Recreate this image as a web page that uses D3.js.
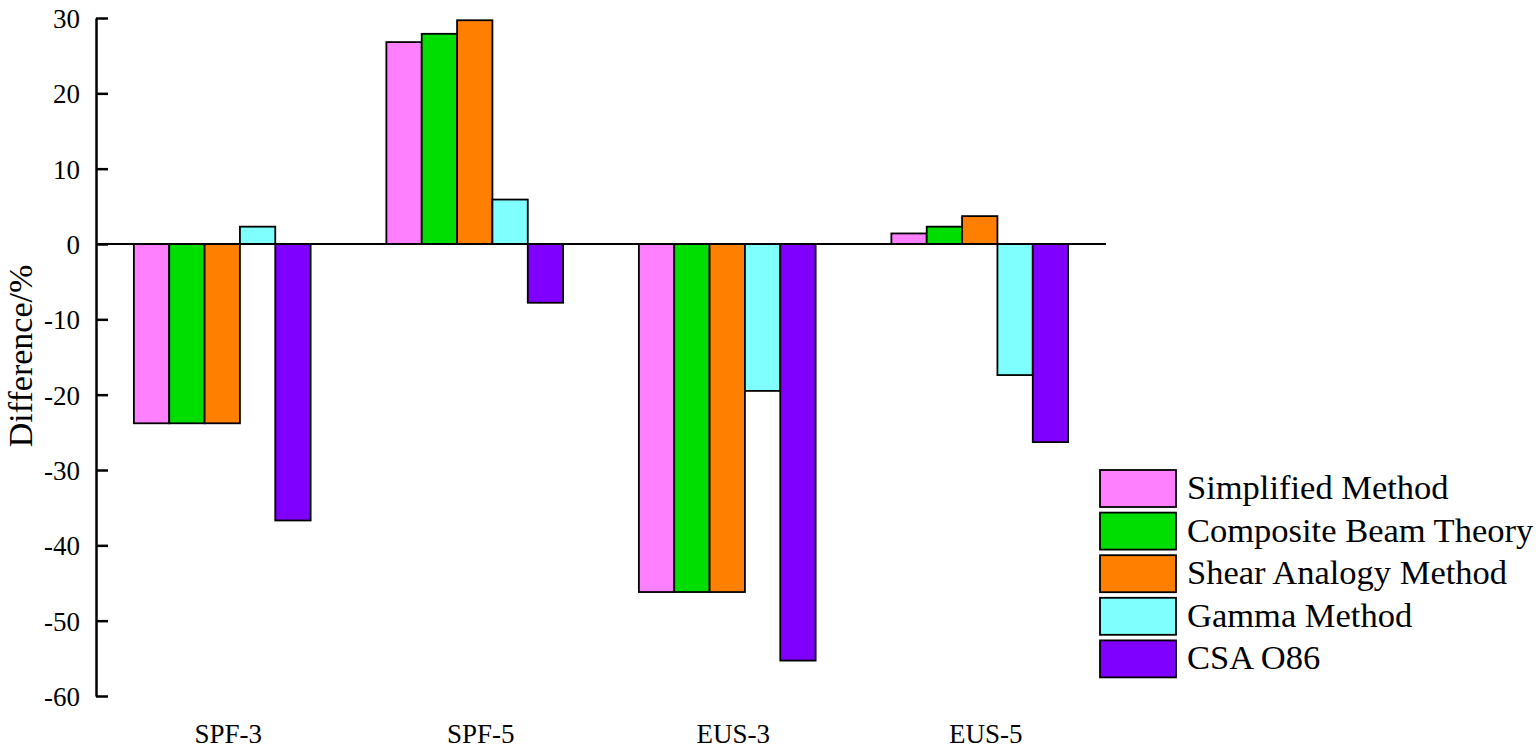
<!DOCTYPE html>
<html>
<head>
<meta charset="utf-8">
<script src="https://cdn.jsdelivr.net/npm/d3@7"></script>
<style>
  body { margin: 0; background: #fff; }
  svg { display: block; }
  text { font-family: "Liberation Serif", "Times New Roman", serif; fill: #000; }
</style>
</head>
<body>
<svg id="chart" width="1536" height="753"></svg>
<script>
// chart data
const categories = ['SPF-3', 'SPF-5', 'EUS-3', 'EUS-5'];
const seriesNames = ['Simplified Method', 'Composite Beam Theory', 'Shear Analogy Method', 'Gamma Method', 'CSA O86'];
const seriesColors = ['#ff80ff', '#00dd00', '#ff8000', '#80ffff', '#8000ff'];
const simplified = [-23.8, 26.8, -46.2, 1.4];
const composite = [-23.8, 27.9, -46.2, 2.3];
const shear = [-23.8, 29.7, -46.2, 3.7];
const gamma = [2.3, 5.9, -19.5, -17.4];
const csa = [-36.7, -7.8, -55.3, -26.3];
const yTicks = [30, 20, 10, 0, -10, -20, -30, -40, -50, -60];

const allSeries = [simplified, composite, shear, gamma, csa];

let svg = d3.select('#chart');
let margins = {left: 96, right: 1106, top: 18, bottom: 696};

// scales
let xScale = d3.scaleBand()
    .domain(categories)
    .range([margins.left, margins.right])
    .padding(0);
let yScale = d3.scaleLinear()
    .domain([-60, 30])
    .range([margins.bottom, margins.top]);
let barWidth = xScale.bandwidth() * 0.14;
let groupOffset = (xScale.bandwidth() - barWidth * seriesNames.length) / 2;

// bars
let barCanvas = svg.append('g').attr('id', 'bars');
allSeries.forEach(function(vals, s){
    barCanvas.selectAll('.bar' + s)
        .data(vals)
        .enter()
        .append('rect')
        .attr('x', function(d, i){ return xScale(categories[i]) + groupOffset + s * barWidth; })
        .attr('y', function(d){ return yScale(Math.max(0, d)); })
        .attr('width', barWidth)
        .attr('height', function(d){ return Math.abs(yScale(d) - yScale(0)); })
        .attr('fill', seriesColors[s])
        .attr('stroke', '#000')
        .attr('stroke-width', 1.8);
});

// zero line
svg.append('line')
    .attr('x1', margins.left)
    .attr('x2', margins.right)
    .attr('y1', yScale(0))
    .attr('y2', yScale(0))
    .attr('stroke', '#000')
    .attr('stroke-width', 2);

// y axis, ticks pointing inward
let yAxis = svg.append('g')
    .attr('transform', 'translate(' + margins.left + ',0)')
    .call(d3.axisRight(yScale).tickValues(yTicks).tickSize(12).tickSizeOuter(0)
        .tickFormat(function(d){ return String(d); }));
yAxis.attr('font-family', null);
yAxis.select('.domain').attr('stroke-width', 2.5);
yAxis.selectAll('.tick line').attr('stroke-width', 2.5);
yAxis.selectAll('.tick text')
    .attr('x', -16)
    .attr('dy', '0.35em')
    .style('text-anchor', 'end')
    .style('font-family', '"Liberation Serif", "Times New Roman", serif')
    .style('font-size', '27px');

// category labels
svg.append('g').selectAll('text')
    .data(categories)
    .enter()
    .append('text')
    .attr('x', function(d){ return xScale(d) + xScale.bandwidth() / 2 + 6; })
    .attr('y', 743)
    .style('text-anchor', 'middle')
    .style('font-size', '27px')
    .text(function(d){ return d; });

// y axis label
svg.append('text')
    .attr('transform', 'translate(32,' + 356 + ') rotate(-90)')
    .style('text-anchor', 'middle')
    .style('font-size', '34px')
    .text('Difference/%');

// legend
let legend = svg.append('g').attr('transform', 'translate(1100,470)');
let rows = legend.selectAll('g')
    .data(seriesNames)
    .enter()
    .append('g')
    .attr('transform', function(d, i){ return 'translate(0,' + (i * 42.6) + ')'; });
rows.append('rect')
    .attr('width', 76)
    .attr('height', 37)
    .attr('fill', function(d, i){ return seriesColors[i]; })
    .attr('stroke', '#000')
    .attr('stroke-width', 1.8);
rows.append('text')
    .attr('x', 87)
    .attr('y', 29)
    .style('font-size', '34.5px')
    .text(function(d){ return d; });
</script>
</body>
</html>
